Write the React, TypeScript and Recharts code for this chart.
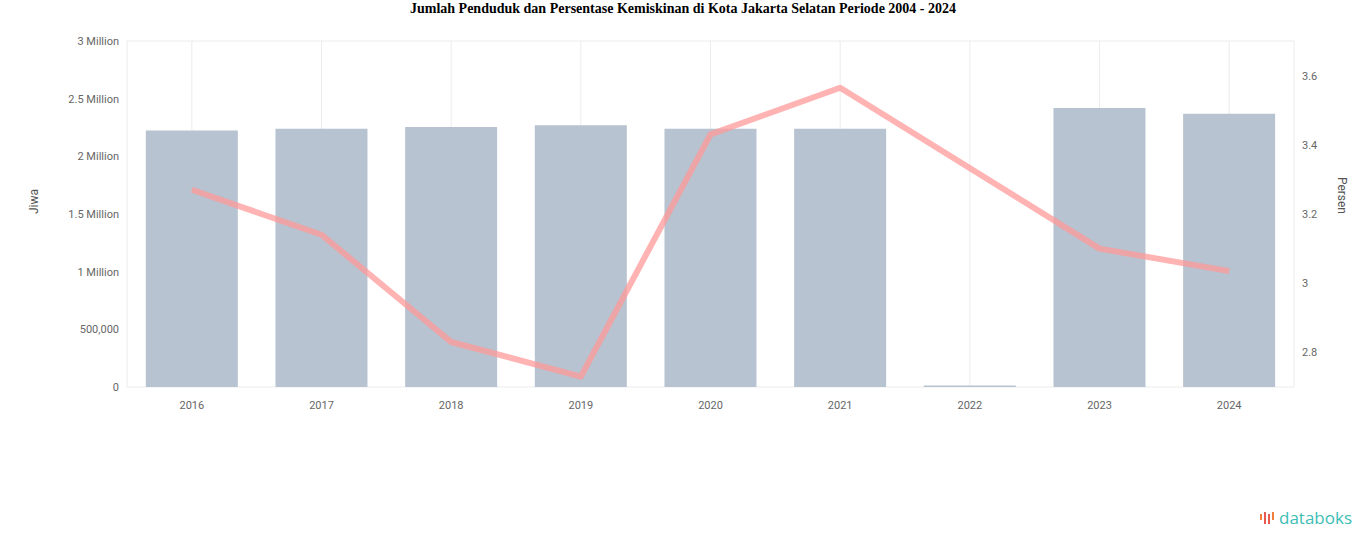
import React from 'react';
import {
  ComposedChart,
  Bar,
  Line,
  XAxis,
  YAxis,
  CartesianGrid
} from 'recharts';

// Tahun (kategori)
const years = ['2016', '2017', '2018', '2019', '2020', '2021', '2022', '2023', '2024'];
// Jumlah penduduk (jiwa)
const population = [2225000, 2240000, 2255000, 2270000, 2240000, 2240000, 12000, 2420000, 2370000];
// Persentase kemiskinan (%) - 2022 kosong
const poverty = [3.27, 3.14, 2.83, 2.73, 3.43, 3.565, null, 3.1, 3.035];

const leftTicks = [0, 500000, 1000000, 1500000, 2000000, 2500000, 3000000];
const rightTicks = [2.8, 3, 3.2, 3.4, 3.6];

const data = years.map((year, i) => ({
  year,
  population: population[i],
  poverty: poverty[i]
}));

const formatJiwa = (v: number) => {
  if (v === 0) return '0';
  if (v >= 1000000) return `${v / 1000000} Million`;
  return v.toLocaleString('en-US');
};

const tickStyle = { fill: '#666', fontSize: 11, fontFamily: 'Roboto, sans-serif' };

const App: React.FC = () => {
  return (
    <div style={{ position: 'absolute', left: 0, top: 0, width: 1366, height: 547, background: '#fff' }}>
      <div
        style={{
          position: 'absolute',
          top: 1,
          width: 1366,
          textAlign: 'center',
          fontFamily: '"Liberation Serif", "Times New Roman", serif',
          fontWeight: 'bold',
          fontSize: 14
        }}
      >
        Jumlah Penduduk dan Persentase Kemiskinan di Kota Jakarta Selatan Periode 2004 - 2024
      </div>

      <div style={{ position: 'absolute', left: 0, top: 0 }}>
        <ComposedChart
          width={1366}
          height={420}
          data={data}
          margin={{ top: 41, right: 0, bottom: 0, left: 0 }}
          barCategoryGap="14.5%"
        >
          <CartesianGrid stroke="#ececec" vertical horizontal />
          <XAxis
            dataKey="year"
            tick={tickStyle}
            tickLine={false}
            axisLine={false}
            tickMargin={8}
            height={33}
          />
          <YAxis
            yAxisId="left"
            width={127}
            domain={[0, 3000000]}
            ticks={leftTicks}
            tickFormatter={formatJiwa}
            tick={tickStyle}
            tickLine={false}
            axisLine={false}
            label={{ value: 'Jiwa', angle: -90, position: 'insideLeft', offset: 34, style: { fill: '#555', fontSize: 12, fontFamily: 'Roboto, sans-serif' } }}
          />
          <YAxis
            yAxisId="right"
            orientation="right"
            width={72}
            domain={[2.7, 3.7]}
            ticks={rightTicks}
            tick={tickStyle}
            tickLine={false}
            axisLine={false}
            label={{ value: 'Persen', angle: 90, position: 'insideRight', offset: 24, style: { fill: '#555', fontSize: 12, fontFamily: 'Roboto, sans-serif' } }}
          />
          <Bar
            yAxisId="left"
            dataKey="population"
            fill="#b7c3d0"
            isAnimationActive={false}
          />
          <Line
            yAxisId="right"
            type="linear"
            dataKey="poverty"
            stroke="#ff9a9a"
            strokeOpacity={0.75}
            strokeWidth={6}
            strokeLinejoin="round"
            dot={false}
            connectNulls
            isAnimationActive={false}
          />
        </ComposedChart>
      </div>

      <div
        style={{
          position: 'absolute',
          right: 14,
          bottom: 18,
          fontFamily: '"Open Sans", sans-serif',
          fontSize: 17,
          color: '#3dbdb5',
          display: 'flex',
          alignItems: 'center'
        }}
      >
        <svg width="18" height="16" viewBox="0 0 18 16" style={{ marginRight: 2 }}>
          <rect x="1" y="4" width="2" height="6" fill="#f0803c" />
          <rect x="5" y="2" width="2" height="12" fill="#e85a4f" />
          <rect x="9" y="4" width="2" height="10" fill="#e85a4f" />
          <rect x="13" y="2" width="2" height="8" fill="#f0803c" />
        </svg>
        databoks
      </div>
    </div>
  );
};

export default App;
